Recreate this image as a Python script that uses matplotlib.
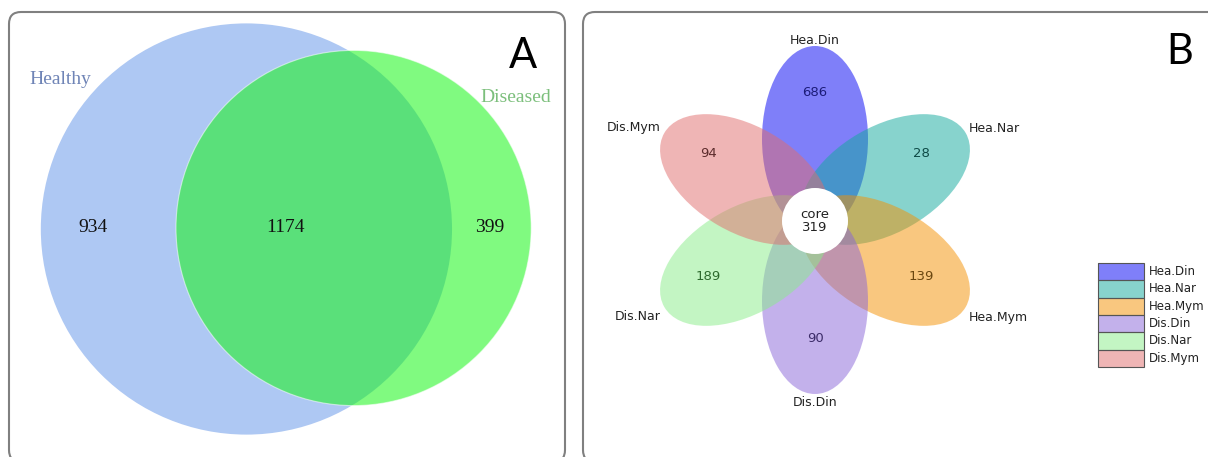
import numpy as np
import matplotlib.pyplot as plt
from matplotlib.patches import Circle, Ellipse, FancyBboxPatch, Rectangle

# A: OTUs shared between healthy and diseased samples
venn_groups = ["Healthy", "Diseased"]
venn_only = [934, 399]
venn_shared = 1174

# B: flower plot, one petal per sample group
petal_names = ["Hea.Din", "Hea.Nar", "Hea.Mym", "Dis.Din", "Dis.Nar", "Dis.Mym"]
petal_counts = [686, 28, 139, 90, 189, 94]
core_count = 319

petal_colors = ["#0000f5", "#11a99d", "#f59100", "#8965d9", "#89ed89", "#e16d6d"]
number_colors = ["#1c1c78", "#0e4a46", "#6a4710", "#3c2c68", "#2d6a2d", "#5c2c2c"]

W, H = 1208, 457
fig = plt.figure(figsize=(W / 100, H / 100), dpi=100)
ax = fig.add_axes([0, 0, 1, 1])
ax.set_xlim(0, W)
ax.set_ylim(H, 0)
ax.axis("off")


def panel_box(x0, y0, x1, y1):
    ax.add_patch(FancyBboxPatch((x0, y0), x1 - x0, y1 - y0,
                                boxstyle="round,pad=0,rounding_size=12",
                                fc="white", ec="#808080", lw=1.5, zorder=0))


def lens_area(r1, r2, d):
    if d >= r1 + r2:
        return 0.0
    if d <= abs(r1 - r2):
        return np.pi * min(r1, r2) ** 2
    a1 = r1 ** 2 * np.arccos((d * d + r1 * r1 - r2 * r2) / (2 * d * r1))
    a2 = r2 ** 2 * np.arccos((d * d + r2 * r2 - r1 * r1) / (2 * d * r2))
    a3 = 0.5 * np.sqrt((-d + r1 + r2) * (d + r1 - r2) * (d - r1 + r2) * (d + r1 + r2))
    return a1 + a2 - a3


# ---------------- panel A: area-proportional venn ----------------
panel_box(9, 12, 565, 462)

px2_per_otu = 63.0
tot1 = venn_only[0] + venn_shared
tot2 = venn_only[1] + venn_shared
r1 = np.sqrt(px2_per_otu * tot1 / np.pi)
r2 = np.sqrt(px2_per_otu * tot2 / np.pi)
target = px2_per_otu * venn_shared
lo, hi = abs(r1 - r2) + 1e-6, r1 + r2
for _ in range(60):
    mid = 0.5 * (lo + hi)
    if lens_area(r1, r2, mid) > target:
        lo = mid
    else:
        hi = mid
dist = 0.5 * (lo + hi)

mid_x, mid_y = 286, 229
c1x = mid_x - (r1 + dist + r2) / 2 + r1
c2x = c1x + dist
ax.add_patch(Circle((c1x, mid_y), r1, fc="#aec8f3", ec="none", zorder=1))
ax.add_patch(Circle((c2x, mid_y - 1), r2, fc=(0.08, 0.965, 0.08), alpha=0.54,
                    ec="white", lw=0.8, zorder=2))

serif = "Liberation Serif"
ax.text(60, 79, venn_groups[0], family=serif, fontsize=14, color="#6f84b6",
        ha="center", va="center", zorder=3)
ax.text(516, 97, venn_groups[1], family=serif, fontsize=14, color="#7cbf7c",
        ha="center", va="center", zorder=3)
for x, v in zip([93, 285, 490], [venn_only[0], venn_shared, venn_only[1]]):
    ax.text(x, 227, str(v), family=serif, fontsize=14, color="#111111",
            ha="center", va="center", zorder=3)
ax.text(523, 56, "A", family="Lato", fontsize=30, color="black",
        ha="center", va="center", zorder=3)

# ---------------- panel B: flower plot ----------------
panel_box(583, 12, 1230, 462)

fx, fy = 815, 220
petal_len, petal_wid, petal_off = 93, 53, 81
angles = [90, 30, -30, -90, -150, 150]

for name, n, col, ncol, ang in zip(petal_names, petal_counts, petal_colors,
                                   number_colors, angles):
    t = np.deg2rad(ang)
    ux, uy = np.cos(t), -np.sin(t)
    ax.add_patch(Ellipse((fx + petal_off * ux, fy + petal_off * uy),
                         2 * petal_len, 2 * petal_wid, angle=-ang,
                         fc=col, alpha=0.5, ec="none", zorder=1))
    ax.text(fx + 123 * ux, fy - 5 + 123 * uy, str(n), fontsize=9.5, color=ncol,
            ha="center", va="center", zorder=3)

# group names around the flower
label_pos = [(815, 40, "center"), (969, 128, "left"), (969, 317, "left"),
             (815, 403, "center"), (661, 317, "right"), (661, 128, "right")]
for name, (x, y, ha) in zip(petal_names, label_pos):
    ax.text(x, y, name, fontsize=9, color="#222222", ha=ha, va="center", zorder=3)

ax.add_patch(Circle((fx, fy + 1), 33, fc="white", ec="none", zorder=2))
ax.text(fx, fy + 1, "core\n" + str(core_count), fontsize=9.5, color="#222222",
        ha="center", va="center", linespacing=0.95, zorder=3)

ax.text(1180, 52, "B", family="Lato", fontsize=30, color="black",
        ha="center", va="center", zorder=3)

# legend
lx, ly, lw_, lh = 1098, 263, 46, 17.3
for i, (name, col) in enumerate(zip(petal_names, petal_colors)):
    ax.add_patch(Rectangle((lx, ly + i * lh), lw_, lh, fc=col, alpha=0.5,
                           ec="none", zorder=2))
    ax.add_patch(Rectangle((lx, ly + i * lh), lw_, lh, fc="none",
                           ec="#555555", lw=0.8, zorder=3))
    ax.text(lx + 51, ly + i * lh + lh / 2, name, fontsize=8.5, color="#222222",
            ha="left", va="center", zorder=3)

fig.savefig("out.png", dpi=100)
